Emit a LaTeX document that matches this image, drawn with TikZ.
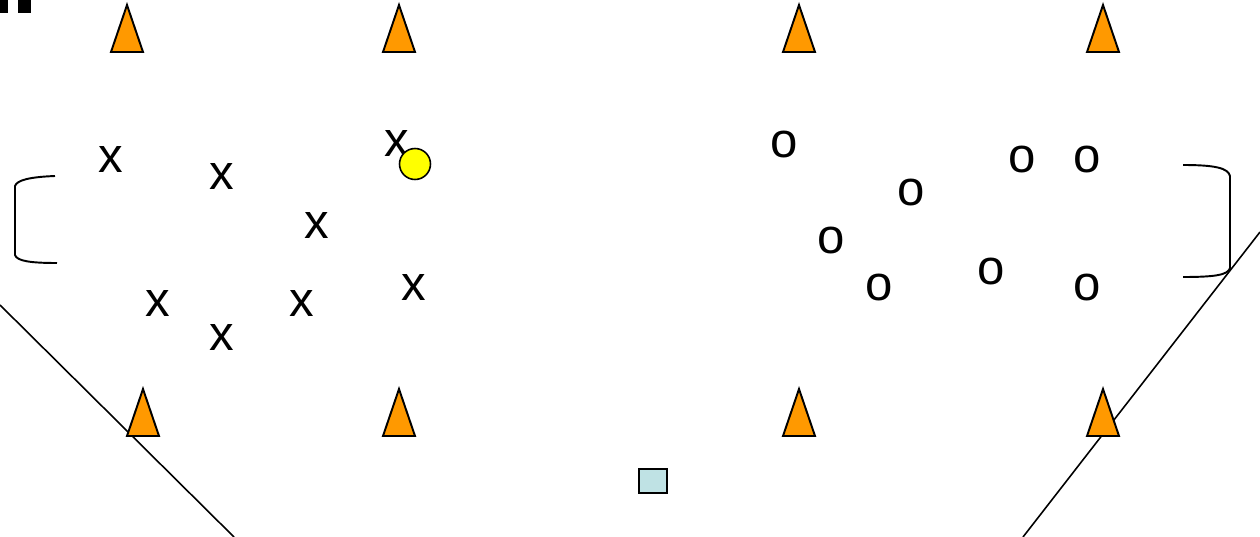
\documentclass[tikz,border=0pt]{standalone}
\usepackage{fontspec}
\usepackage{xcolor}
\usepackage{tikz}
\newfontfamily\playerfont{Liberation Sans}
\definecolor{coneorange}{RGB}{255, 153, 0}
\definecolor{ballyellow}{RGB}{255, 255, 0}
\definecolor{boxblue}{RGB}{191, 226, 228}

\begin{document}
\begin{tikzpicture}[
  x={(0.02cm,0)}, y={(0,-0.02cm)},
  cone/.style={draw=black, fill=coneorange, line width=1.1pt, line join=miter},
  fieldline/.style={draw=black, line width=0.9pt},
  goalline/.style={draw=black, line width=1.1pt},
  player/.style={inner sep=0pt, font=\playerfont\fontsize{28}{30}\selectfont}
]
\useasboundingbox (0,0) rectangle (1260,537);

% Top-left marks
\fill[black] (0,0) rectangle (8,13);
\fill[black] (18,0) rectangle (31,13);

% Side lines
\coordinate (lineLA) at (0,305);
\coordinate (lineLB) at (234,537);
\coordinate (lineRA) at (1260,232);
\coordinate (lineRB) at (1023,537);
\draw[fieldline] (lineLA) -- (lineLB);
\draw[fieldline] (lineRA) -- (lineRB);

% Cones: top row and bottom row
\foreach \cx in {127,399,799,1103}
  \draw[cone] (\cx,5) -- (\cx+16,52) -- (\cx-16,52) -- cycle;
\foreach \cx in {143,399,799,1103}
  \draw[cone] (\cx,389) -- (\cx+16,436) -- (\cx-16,436) -- cycle;

% Goals
\draw[goalline] (55,176) .. controls (30,177) and (17,180) .. (15,186) -- (15,255) .. controls (17,261) and (30,263) .. (57,263);
\draw[goalline] (1183,165) .. controls (1215,165) and (1228,168) .. (1230,176) -- (1230,268) .. controls (1228,275) and (1215,277) .. (1183,277);

% Team x
\node[player] (x1) at (111,160) {x};
\node[player] (x2) at (222,177) {x};
\node[player] (x3) at (317,226) {x};
\node[player] (x4) at (397,144) {x};
\node[player] (x5) at (158,304) {x};
\node[player] (x6) at (222,338) {x};
\node[player] (x7) at (302,304) {x};
\node[player] (x8) at (414,288) {x};

% Team o
\node[player] (o1) at (784,145) {o};
\node[player] (o2) at (911,193) {o};
\node[player] (o3) at (831,241) {o};
\node[player] (o4) at (879,288) {o};
\node[player] (o5) at (1022,160) {o};
\node[player] (o6) at (1087,160) {o};
\node[player] (o7) at (991,272) {o};
\node[player] (o8) at (1087,288) {o};

% Ball and coach
\draw[black, fill=ballyellow, line width=0.9pt] (415,164) circle[radius=0.31cm];
\draw[black, fill=boxblue, line width=1.1pt] (639,469) rectangle (667,493);

\end{tikzpicture}
\end{document}
